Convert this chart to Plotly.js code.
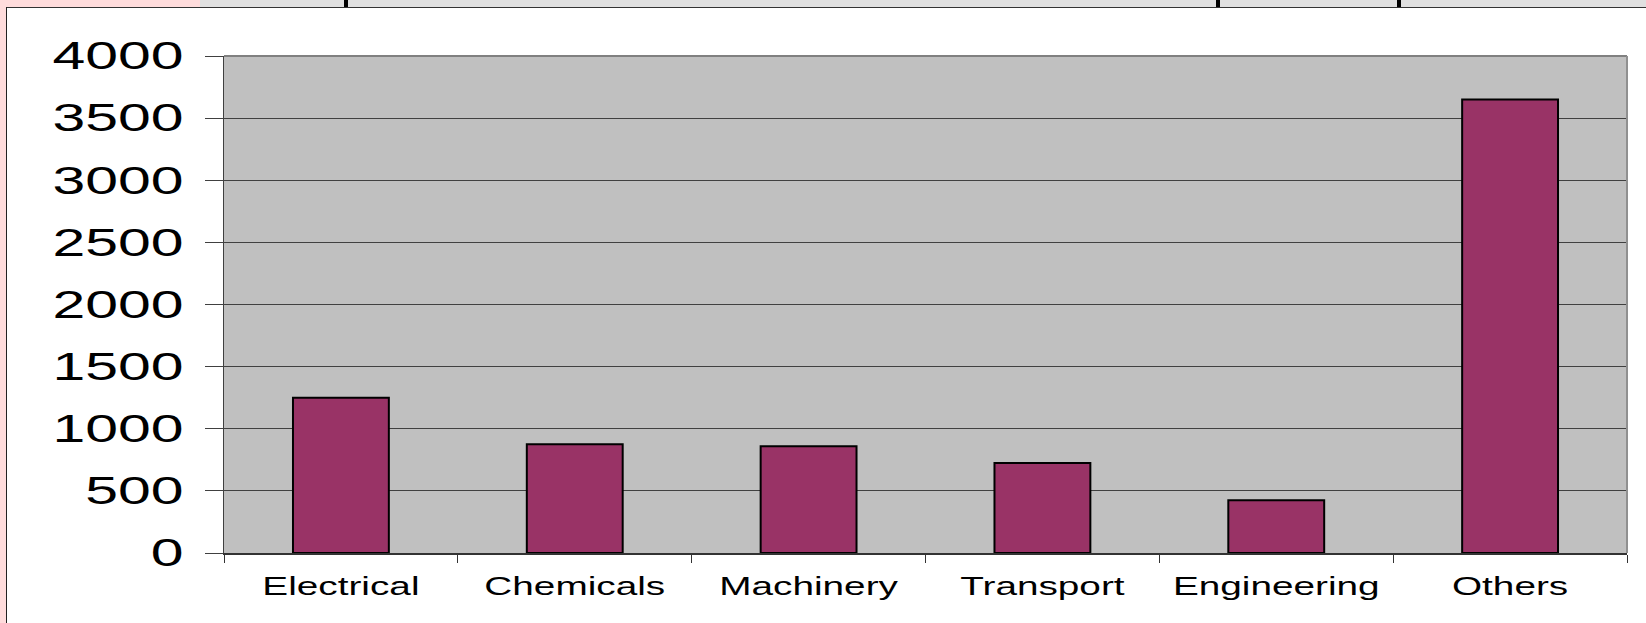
<!DOCTYPE html>
<html>
<head>
<meta charset="utf-8">
<script src="https://cdn.plot.ly/plotly-3.0.1.min.js"></script>
<style>
html, body { margin: 0; padding: 0; background: #ffffff; }
#wrap { position: relative; width: 1646px; height: 623px; overflow: hidden; }
#chart { position: absolute; left: 0; top: 0; width: 1646px; height: 623px; }
.deco { position: absolute; }
</style>
</head>
<body>
<div id="wrap">
  <div id="chart"></div>
  <div class="deco" style="left:0;top:0;width:200px;height:7px;background:#ffdcdc"></div>
  <div class="deco" style="left:200px;top:0;width:1446px;height:7px;background:#e0e0e0"></div>
  <div class="deco" style="left:0;top:0;width:6px;height:623px;background:#ffdcdc"></div>
  <div class="deco" style="left:6px;top:7px;width:1640px;height:1px;background:#333333"></div>
  <div class="deco" style="left:6px;top:7px;width:1px;height:616px;background:#222222"></div>
  <div class="deco" style="left:344px;top:0;width:4px;height:7px;background:#000000"></div>
  <div class="deco" style="left:1216px;top:0;width:4px;height:7px;background:#000000"></div>
  <div class="deco" style="left:1397px;top:0;width:4px;height:7px;background:#000000"></div>
</div>
<script>
const categories = ["Electrical", "Chemicals", "Machinery", "Transport", "Engineering", "Others"];
const values = [1250, 875, 860, 725, 425, 3650];
const yTickValues = [0, 500, 1000, 1500, 2000, 2500, 3000, 3500, 4000];

const trace = {
  type: "bar",
  x: categories,
  y: values,
  marker: { color: "#993366", line: { color: "#000000", width: 2 } },
  hoverinfo: "x+y"
};

const layout = {
  width: 1646,
  height: 623,
  margin: { l: 224, r: 19, t: 56, b: 70, pad: 0 },
  paper_bgcolor: "#ffffff",
  plot_bgcolor: "#c0c0c0",
  showlegend: false,
  bargap: 0.59,
  font: { family: "Liberation Sans, Arial, sans-serif", color: "#000000" },
  xaxis: {
    type: "category",
    showline: true,
    linecolor: "#333333",
    linewidth: 2,
    ticks: "outside",
    tickson: "boundaries",
    ticklen: 8,
    tickcolor: "#333333",
    tickwidth: 1,
    showgrid: false,
    zeroline: false,
    ticklabelstandoff: 10,
    tickfont: { family: "Liberation Sans, Arial, sans-serif", size: 25, color: "#000000" }
  },
  yaxis: {
    range: [0, 4000],
    tickvals: yTickValues,
    ticktext: yTickValues.map(String),
    showline: true,
    linecolor: "#404040",
    linewidth: 1,
    ticks: "outside",
    ticklen: 18,
    tickcolor: "#404040",
    tickwidth: 1,
    showgrid: true,
    gridcolor: "#404040",
    gridwidth: 1,
    zeroline: false,
    ticklabelstandoff: 14,
    tickfont: { family: "Liberation Sans, Arial, sans-serif", size: 38, color: "#000000" }
  },
  shapes: [
    { type: "line", xref: "paper", yref: "paper", x0: 0, x1: 1, y0: 1, y1: 1,
      line: { color: "#808080", width: 2 }, layer: "above" },
    { type: "line", xref: "paper", yref: "paper", x0: 1, x1: 1, y0: 0, y1: 1,
      line: { color: "#909090", width: 2 }, layer: "above" }
  ]
};

// The reference's lettering is horizontally widened; stretch the tick labels about their anchors.
function widenLabels(selector, factor) {
  document.querySelectorAll(selector).forEach(function (t) {
    const ax = parseFloat(t.getAttribute("x") || "0");
    const orig = t.getAttribute("transform") || "";
    t.setAttribute("transform",
      (orig + " translate(" + ax + ",0) scale(" + factor + ",1) translate(" + (-ax) + ",0)").trim());
  });
}

Plotly.newPlot("chart", [trace], layout, { displayModeBar: false, staticPlot: true }).then(function () {
  widenLabels("#chart .ytick text", 1.55);
  widenLabels("#chart .xtick text", 1.55);
});
</script>
</body>
</html>
